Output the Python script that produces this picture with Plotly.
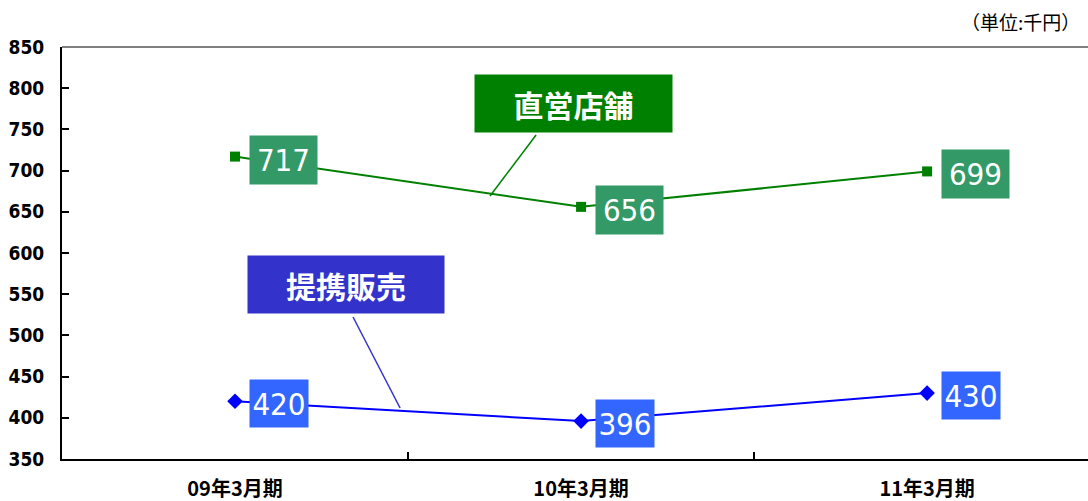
import plotly.graph_objects as go

# Fiscal periods and per-store average values (unit: thousand yen)
periods = ["09年3月期", "10年3月期", "11年3月期"]
direct_stores = [717, 656, 699]
partner_sales = [420, 396, 430]
y_ticks = [350, 400, 450, 500, 550, 600, 650, 700, 750, 800, 850]

GREEN = "#008000"
GREEN_BOX = "#339966"
BLUE = "#0000FF"
BLUE_BOX = "#3366FF"
BLUE_TAG = "#3333CC"
CJK = "Noto Sans CJK JP"
NARROW = "'Liberation Sans Narrow', 'DejaVu Sans Condensed', 'Arial Narrow', sans-serif"

xs = list(range(len(periods)))

fig = go.Figure()
fig.add_trace(go.Scatter(
    x=xs, y=direct_stores, mode="lines+markers",
    line=dict(color=GREEN, width=2),
    marker=dict(symbol="square", size=10, color=GREEN),
    showlegend=False, hoverinfo="skip",
))
fig.add_trace(go.Scatter(
    x=xs, y=partner_sales, mode="lines+markers",
    line=dict(color=BLUE, width=2),
    marker=dict(symbol="diamond", size=12, color=BLUE),
    showlegend=False, hoverinfo="skip",
))

annotations = []
# value labels beside each point
for x, v in zip(xs, direct_stores):
    annotations.append(dict(
        x=x, y=v, xref="x", yref="y", text=str(v), showarrow=False,
        xanchor="left", yanchor="middle", xshift=14, yshift=-3,
        bgcolor=GREEN_BOX, width=63, height=44, borderpad=2,
        font=dict(family=NARROW, size=31, color="white"),
    ))
for x, v in zip(xs, partner_sales):
    annotations.append(dict(
        x=x, y=v, xref="x", yref="y", text=str(v), showarrow=False,
        xanchor="left", yanchor="middle", xshift=14, yshift=-2,
        bgcolor=BLUE_BOX, width=54, height=43, borderpad=2,
        font=dict(family=NARROW, size=31, color="white"),
    ))

# series tags
annotations.append(dict(
    x=(573.5 - 62) / 1026, y=(459 - 103.5) / 412, xref="paper", yref="paper",
    text="<b>直営店舗</b>", showarrow=False, xanchor="center", yanchor="middle",
    bgcolor=GREEN, width=193, height=53, borderpad=2,
    font=dict(family=CJK, size=30, color="white"),
))
annotations.append(dict(
    x=(346 - 62) / 1026, y=(459 - 284.5) / 412, xref="paper", yref="paper",
    text="<b>提携販売</b>", showarrow=False, xanchor="center", yanchor="middle",
    bgcolor=BLUE_TAG, width=192, height=53, borderpad=2,
    font=dict(family=CJK, size=30, color="white"),
))
# unit note
annotations.append(dict(
    x=1.0, y=(459 - 22) / 412, xref="paper", yref="paper",
    text="（単位:千円）", showarrow=False, xanchor="right", yanchor="middle",
    xshift=-6, font=dict(family=CJK, size=19, color="black"),
))

shapes = [
    # top frame line
    dict(type="line", xref="paper", yref="paper", x0=0, x1=1, y0=1, y1=1,
         line=dict(color="#808080", width=2)),
    # leader lines from tags to the series lines
    dict(type="line", xref="x", yref="y", x0=0.870, y0=743.2, x1=0.737, y1=669.2,
         line=dict(color=GREEN, width=1.5)),
    dict(type="line", xref="x", yref="y", x0=0.341, y0=522.3, x1=0.477, y1=411.9,
         line=dict(color=BLUE_TAG, width=1.5)),
]

fig.update_layout(
    width=1088, height=501,
    margin=dict(l=62, r=0, t=47, b=42),
    paper_bgcolor="white", plot_bgcolor="white",
    annotations=annotations, shapes=shapes,
    xaxis=dict(
        range=[-0.5, 2.465], tickvals=xs, ticktext=periods, ticks="",
        showgrid=False, zeroline=False, showline=True, linecolor="black", linewidth=2,
        tickfont=dict(family=CJK, size=20, color="black", weight="bold"),
        ticklabelstandoff=11,
        minor=dict(tickvals=[0.5, 1.5], ticks="inside", ticklen=7, tickcolor="black",
                   tickwidth=1.5, showgrid=False),
    ),
    yaxis=dict(
        range=[350, 850], tickvals=y_ticks, ticks="inside", ticklen=7,
        tickcolor="black", tickwidth=2,
        showgrid=False, zeroline=False, showline=True, linecolor="black", linewidth=2,
        tickfont=dict(family=NARROW, size=19, color="black", weight="bold"),
        ticklabelstandoff=12,
    ),
)

fig.write_html("out.html")
